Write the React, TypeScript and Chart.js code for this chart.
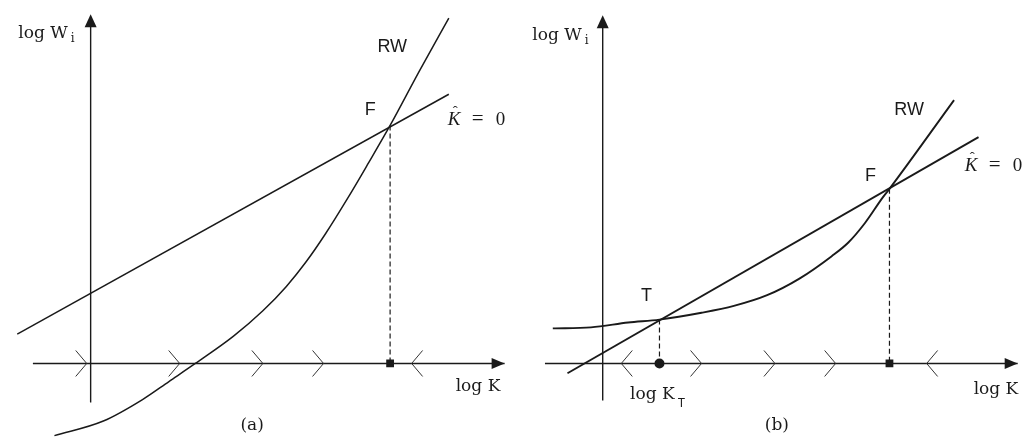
import React, { useEffect, useRef } from "react";
import { Chart, registerables } from "chart.js";
Chart.register(...registerables);

// ---------- Panel (a) ----------
const aKdotX = [-7.5, 36.6];
const aKdotY = [3.0, 27.6];
const aRwX = [-3.7, 1.3, 5.3, 8.0, 10.7, 14.6, 17.6, 20.0, 22.0, 24.0, 26.3, 28.3, 30.6, 33.6, 36.6];
const aRwY = [-7.4, -5.9, -3.7, -1.85, 0, 2.8, 5.4, 7.9, 10.4, 13.3, 17.0, 20.4, 24.4, 30.0, 35.4];
const aSteadyF = [30.6, 24.4];
const aFlowTips = [-0.4, 9.1, 17.6, 23.8, 32.8];
const aFlowDirs = [1, 1, 1, 1, -1];
const aXAxis = [-5.9, 42.3];
const aYAxis = [-4.0, 35.5];

// ---------- Panel (b) ----------
const bKdotX = [-3.6, 38.4];
const bKdotY = [-1.0, 23.2];
const bRwX = [-5.1, -1.2, 2.6, 5.8, 10.1, 13.4, 16.8, 20.1, 23.4, 25.1, 26.8, 28.6, 29.3, 35.9];
const bRwY = [3.6, 3.7, 4.2, 4.5, 5.2, 5.9, 7.0, 8.7, 11.0, 12.4, 14.4, 17.0, 17.9, 27.0];
const bThresholdT = [5.8, 4.5];
const bSteadyF = [29.3, 17.9];
const bFlowTips = [1.9, 10.1, 17.6, 23.8, 33.1];
const bFlowDirs = [-1, 1, 1, 1, -1];
const bXAxis = [-5.9, 42.4];
const bYAxis = [-3.8, 35.4];

type Label = { text: string; sub?: string; x: number; y: number; kind: string; align?: CanvasTextAlign };

const aLabels: Label[] = [
  { text: "log W", sub: "i", x: -7.4, y: 33.4, kind: "serif" },
  { text: "RW", x: 29.3, y: 31.9, kind: "sans" },
  { text: "F", x: 28.0, y: 25.5, kind: "sans" },
  { text: "Kdot", x: 36.5, y: 24.4, kind: "kdot" },
  { text: "log K", x: 37.3, y: -2.8, kind: "serif" },
  { text: "(a)", x: 16.5, y: -6.8, kind: "serif", align: "center" },
];
const bLabels: Label[] = [
  { text: "log W", sub: "i", x: -7.2, y: 33.2, kind: "serif" },
  { text: "RW", x: 29.8, y: 25.5, kind: "sans" },
  { text: "F", x: 26.8, y: 18.7, kind: "sans" },
  { text: "Kdot", x: 37.0, y: 19.7, kind: "kdot" },
  { text: "T", x: 3.9, y: 6.4, kind: "sans" },
  { text: "log K", sub: "T", x: 2.8, y: -3.6, kind: "serif" },
  { text: "log K", x: 37.9, y: -3.1, kind: "serif" },
  { text: "(b)", x: 17.8, y: -6.8, kind: "serif", align: "center" },
];

const INK = "#1a1a1a";
const SERIF = '"DejaVu Serif", "Liberation Serif", serif';
const SANS = '"Liberation Sans", Arial, sans-serif';

type PanelCfg = {
  width: number;
  xMin: number;
  xMax: number;
  kdotX: number[];
  kdotY: number[];
  rwX: number[];
  rwY: number[];
  axisX: number[];
  axisY: number[];
  flowTips: number[];
  flowDirs: number[];
  steadyF: number[];
  threshold?: number[];
  labels: Label[];
  lineW: number;
};

const zip = (xs: number[], ys: number[]) => xs.map((x, i) => ({ x, y: ys[i] }));

function makeChart(canvas: HTMLCanvasElement, cfg: PanelCfg) {
  const line = (data: { x: number; y: number }[], extra: any = {}) => ({
    type: "scatter" as const,
    data,
    showLine: true,
    pointRadius: 0,
    borderColor: INK,
    backgroundColor: INK,
    borderWidth: cfg.lineW,
    ...extra,
  });

  const datasets: any[] = [
    line(
      [
        { x: cfg.axisX[0], y: 0 },
        { x: cfg.axisX[1], y: 0 },
      ],
      { borderWidth: 1.4 }
    ),
    line(
      [
        { x: 0, y: cfg.axisY[0] },
        { x: 0, y: cfg.axisY[1] },
      ],
      { borderWidth: 1.4 }
    ),
    line(zip(cfg.kdotX, cfg.kdotY)),
    line(zip(cfg.rwX, cfg.rwY), { cubicInterpolationMode: "monotone" }),
    line(
      [
        { x: cfg.steadyF[0], y: cfg.steadyF[1] },
        { x: cfg.steadyF[0], y: 0 },
      ],
      { borderWidth: 1.2, borderDash: [5, 3] }
    ),
    {
      type: "scatter",
      data: [{ x: cfg.steadyF[0], y: 0 }],
      pointStyle: "rect",
      pointRadius: 5.5,
      backgroundColor: INK,
      borderColor: INK,
      borderWidth: 0,
    },
  ];
  if (cfg.threshold) {
    datasets.push(
      line(
        [
          { x: cfg.threshold[0], y: cfg.threshold[1] },
          { x: cfg.threshold[0], y: 0 },
        ],
        { borderWidth: 1.2, borderDash: [5, 3] }
      )
    );
    datasets.push({
      type: "scatter",
      data: [{ x: cfg.threshold[0], y: 0 }],
      pointStyle: "circle",
      pointRadius: 5,
      backgroundColor: INK,
      borderColor: INK,
      borderWidth: 0,
    });
  }

  const decor = {
    id: "decor",
    afterDatasetsDraw(chart: any) {
      const ctx: CanvasRenderingContext2D = chart.ctx;
      const xs = chart.scales.x;
      const ys = chart.scales.y;
      const px = (v: number) => xs.getPixelForValue(v);
      const py = (v: number) => ys.getPixelForValue(v);
      ctx.save();
      // axis arrow heads
      ctx.fillStyle = INK;
      const ax = px(cfg.axisX[1]);
      const ay = py(0);
      ctx.beginPath();
      ctx.moveTo(ax, ay);
      ctx.lineTo(ax - 13, ay - 5.5);
      ctx.lineTo(ax - 13, ay + 5.5);
      ctx.closePath();
      ctx.fill();
      const yx = px(0);
      const yy = py(cfg.axisY[1]);
      ctx.beginPath();
      ctx.moveTo(yx, yy - 3);
      ctx.lineTo(yx - 6, yy + 10);
      ctx.lineTo(yx + 6, yy + 10);
      ctx.closePath();
      ctx.fill();
      // flow chevrons
      ctx.strokeStyle = "#333";
      ctx.lineWidth = 1;
      cfg.flowTips.forEach((t, i) => {
        const d = cfg.flowDirs[i];
        const tx = px(t);
        ctx.beginPath();
        ctx.moveTo(tx - d * 11, ay - 13);
        ctx.lineTo(tx, ay);
        ctx.lineTo(tx - d * 11, ay + 13);
        ctx.stroke();
      });
      // labels
      ctx.fillStyle = INK;
      ctx.textBaseline = "alphabetic";
      cfg.labels.forEach((l) => {
        const x = px(l.x);
        const y = py(l.y);
        if (l.kind === "kdot") {
          ctx.textAlign = "left";
          ctx.font = `italic 19px "Liberation Serif", serif`;
          ctx.fillText("K", x, y);
          ctx.font = `15px "Liberation Serif", serif`;
          ctx.fillText("\u02C6", x + 5, y - 9);
          ctx.font = `21px "Liberation Serif", serif`;
          ctx.fillText("=", x + 24, y);
          ctx.font = `19px "Liberation Serif", serif`;
          ctx.fillText("0", x + 48, y);
          return;
        }
        ctx.textAlign = l.align || "left";
        ctx.font = l.kind === "sans" ? `18px ${SANS}` : `17px ${SERIF}`;
        ctx.fillText(l.text, x, y);
        if (l.sub) {
          const w = ctx.measureText(l.text).width;
          ctx.font = `12px ${l.sub === "T" ? SANS : SERIF}`;
          ctx.fillText(l.sub, x + w + 3, y + (l.sub === "T" ? 8 : 4));
        }
      });
      ctx.restore();
    },
  };

  return new Chart(canvas, {
    type: "scatter",
    data: { datasets },
    options: {
      responsive: false,
      animation: false,
      events: [],
      layout: { padding: 0 },
      plugins: { legend: { display: false }, tooltip: { enabled: false } },
      scales: {
        x: { type: "linear", min: cfg.xMin, max: cfg.xMax, display: false },
        y: { type: "linear", min: -8.0, max: 36.7, display: false },
      },
    },
    plugins: [decor],
  } as any);
}

function Panel({ cfg }: { cfg: PanelCfg }) {
  const ref = useRef<HTMLCanvasElement>(null);
  useEffect(() => {
    if (!ref.current) return;
    const c = makeChart(ref.current, cfg);
    return () => c.destroy();
  }, [cfg]);
  return <canvas ref={ref} width={cfg.width} height={447} style={{ display: "block", width: cfg.width, height: 447 }} />;
}

const panelA: PanelCfg = {
  width: 515,
  xMin: -8.7,
  xMax: 42.8,
  kdotX: aKdotX,
  kdotY: aKdotY,
  rwX: aRwX,
  rwY: aRwY,
  axisX: aXAxis,
  axisY: aYAxis,
  flowTips: aFlowTips,
  flowDirs: aFlowDirs,
  steadyF: aSteadyF,
  labels: aLabels,
  lineW: 1.5,
};

const panelB: PanelCfg = {
  width: 516,
  xMin: -8.4,
  xMax: 43.2,
  kdotX: bKdotX,
  kdotY: bKdotY,
  rwX: bRwX,
  rwY: bRwY,
  axisX: bXAxis,
  axisY: bYAxis,
  flowTips: bFlowTips,
  flowDirs: bFlowDirs,
  steadyF: bSteadyF,
  threshold: bThresholdT,
  labels: bLabels,
  lineW: 1.9,
};

export default function App() {
  return (
    <div
      style={{
        position: "fixed",
        left: 0,
        top: 0,
        width: 1031,
        height: 447,
        background: "#fff",
        display: "flex",
        overflow: "hidden",
      }}
    >
      <Panel cfg={panelA} />
      <Panel cfg={panelB} />
    </div>
  );
}
